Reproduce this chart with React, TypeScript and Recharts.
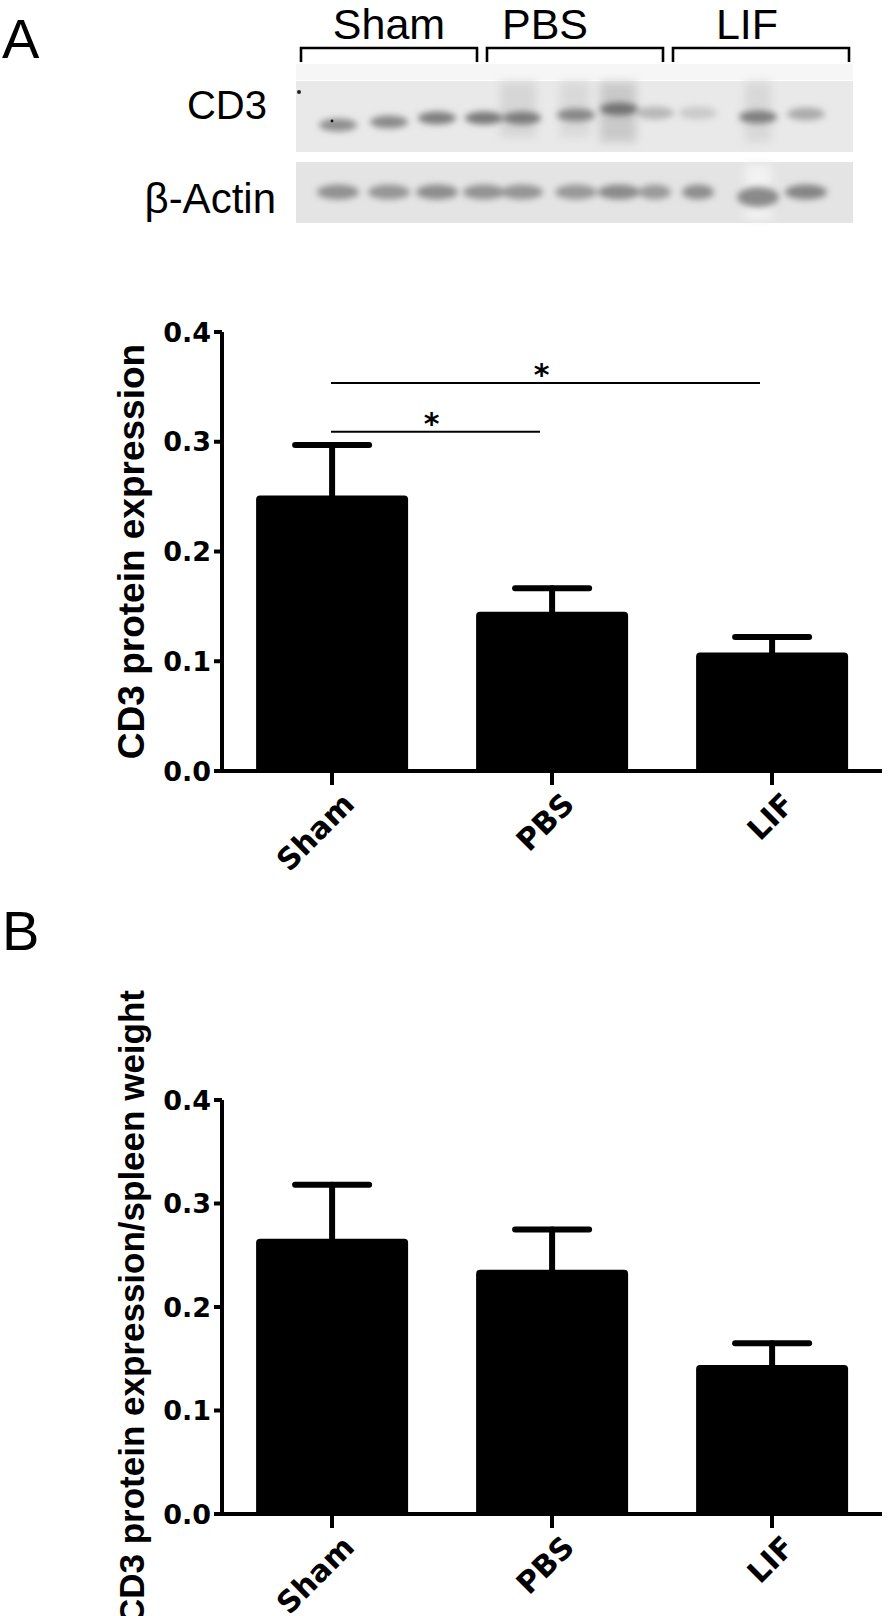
import React from "react";
import { BarChart, Bar, XAxis, YAxis, ErrorBar, ReferenceLine, Label } from "recharts";

const groups = ["Sham", "PBS", "LIF"];
const cd3Mean = [0.251, 0.145, 0.108];
const cd3Sem = [0.046, 0.0215, 0.014];
const cd3PerWeightMean = [0.266, 0.236, 0.144];
const cd3PerWeightSem = [0.052, 0.039, 0.021];
const yTicks = [0, 0.1, 0.2, 0.3, 0.4];

const sigFrom = ["Sham", "Sham"];
const sigTo = ["LIF", "PBS"];
const sigLevel = [0.3535, 0.309];
const sigMark = ["*", "*"];

// western blot lanes (drawn, not data)
const laneX = [338, 389, 437, 484, 522, 576, 619, 655, 698, 758, 806];
const cd3BandY = [125, 122, 118, 118, 118, 115, 109, 113, 113, 117, 114];
const cd3BandTone = ["#8e8e8e", "#8a8a8a", "#7e7e7e", "#787878", "#7a7a7a", "#878787", "#727272", "#b8b8b8", "#cacaca", "#7e7e7e", "#ababab"];
const actinTone = ["#909090", "#959595", "#8c8c8c", "#929292", "#949494", "#989898", "#8a8a8a", "#9a9a9a", "#8e8e8e", "#8a8a8a", "#848484"];

const SANS = "'Liberation Sans', Arial, sans-serif";
const TICK_FONT = "'DejaVu Sans', sans-serif";

function XTick(props: any) {
  const { x, y, payload } = props;
  const ax = x + 24;
  const ay = y + 19;
  return (
    <text
      x={ax}
      y={ay}
      transform={`rotate(-45 ${ax} ${ay})`}
      textAnchor="end"
      fontFamily={TICK_FONT}
      fontWeight="bold"
      fontSize={30}
      fill="#000"
    >
      {payload.value}
    </text>
  );
}

function SigLine(props: any) {
  const { x1, y1, x2, mark } = props;
  const xs = x1 - 1;
  const xe = x2 - 12;
  return (
    <g>
      <line x1={xs} y1={y1} x2={xe} y2={y1} stroke="#000" strokeWidth={2} />
      <text
        x={(xs + xe) / 2 - 4}
        y={y1 + 2}
        textAnchor="middle"
        fontFamily={TICK_FONT}
        fontWeight="bold"
        fontSize={30}
        fill="#000"
      >
        {mark}
      </text>
    </g>
  );
}

function AxisTitle(props: any) {
  const { text, tx, ty, anchor, size } = props;
  return (
    <text
      x={tx}
      y={ty}
      transform={`rotate(-90 ${tx} ${ty})`}
      textAnchor={anchor}
      fontFamily={SANS}
      fontWeight="bold"
      fontSize={size}
      fill="#000"
    >
      {text}
    </text>
  );
}

interface PanelProps {
  means: number[];
  sems: number[];
  top: number;
  height: number;
  plotTop: number;
  plotHeight: number;
  title: string;
  titleY: number;
  titleAnchor: string;
  titleSize: number;
  showSig?: boolean;
}

function BarPanel(p: PanelProps) {
  const data = groups.map((g, i) => ({ group: g, mean: p.means[i], err: p.sems[i] }));
  const bottom = p.height - p.plotTop - p.plotHeight - 30;
  return (
    <div style={{ position: "absolute", left: 0, top: p.top, width: 894, height: p.height }}>
      <BarChart
        width={894}
        height={p.height}
        data={data}
        margin={{ top: p.plotTop, right: 12, left: 162, bottom }}
        barCategoryGap="15.5%"
      >
        <XAxis
          dataKey="group"
          height={30}
          interval={0}
          axisLine={{ stroke: "#000", strokeWidth: 4 }}
          tickLine={{ stroke: "#000", strokeWidth: 4 }}
          tickSize={14}
          tick={<XTick />}
        />
        <YAxis
          width={60}
          domain={[0, 0.4]}
          ticks={yTicks}
          interval={0}
          axisLine={{ stroke: "#000", strokeWidth: 4 }}
          tickLine={{ stroke: "#000", strokeWidth: 4 }}
          tickSize={8}
          tickMargin={3}
          tickFormatter={(v: number) => v.toFixed(1)}
          tick={{ fill: "#000", fontFamily: TICK_FONT, fontWeight: "bold", fontSize: 27 }}
        >
          <Label
            content={
              <AxisTitle
                text={p.title}
                tx={144}
                ty={p.titleY}
                anchor={p.titleAnchor}
                size={p.titleSize}
              />
            }
          />
        </YAxis>
        <Bar dataKey="mean" fill="#000" radius={[4, 4, 0, 0]} isAnimationActive={false}>
          <ErrorBar
            dataKey="err"
            direction="y"
            width={37}
            stroke="#000"
            strokeWidth={6}
            strokeLinecap="round"
            isAnimationActive={false}
          />
        </Bar>
        {p.showSig &&
          sigLevel.map((lvl, i) => (
            <ReferenceLine
              key={i}
              segment={[
                { x: sigFrom[i], y: lvl },
                { x: sigTo[i], y: lvl },
              ]}
              stroke="#000"
              shape={(sp: any) => <SigLine {...sp} mark={sigMark[i]} />}
            />
          ))}
      </BarChart>
    </div>
  );
}

function Blot() {
  const brackets = [
    [301, 477],
    [487, 663],
    [673, 849],
  ];
  const titleX = [389, 545, 747];
  return (
    <svg width={894} height={240} style={{ position: "absolute", left: 0, top: 0 }}>
      <defs>
        <filter id="soft" x="-50%" y="-50%" width="200%" height="200%">
          <feGaussianBlur stdDeviation="3" />
        </filter>
        <filter id="smear" x="-50%" y="-50%" width="200%" height="200%">
          <feGaussianBlur stdDeviation="5" />
        </filter>
      </defs>
      <text x={2} y={58} fontFamily={SANS} fontSize={56} fill="#000">A</text>
      {groups.map((g, i) => (
        <text key={g} x={titleX[i]} y={39} textAnchor="middle" fontFamily={SANS} fontSize={43} fill="#000">
          {g}
        </text>
      ))}
      {brackets.map(([a, b], i) => (
        <path key={i} d={`M${a} 62 V48 H${b} V62`} fill="none" stroke="#000" strokeWidth={2.6} />
      ))}
      <text x={267} y={119} textAnchor="end" fontFamily={SANS} fontSize={40} fill="#000">CD3</text>
      <text x={276} y={213} textAnchor="end" fontFamily={SANS} fontSize={42} fill="#000">β-Actin</text>

      <rect x={296} y={64} width={557} height={16} fill="#f6f6f6" />
      <rect x={296} y={81} width={557} height={71} fill="#e9e9e9" />
      <rect x={296} y={162} width={557} height={61} fill="#e4e4e4" />
      <g filter="url(#smear)">
        <rect x={600} y={82} width={36} height={60} fill="#c9c9c9" />
        <rect x={560} y={82} width={30} height={55} fill="#d9d9d9" />
        <rect x={500} y={82} width={36} height={55} fill="#d6d6d6" />
        <rect x={745} y={164} width={26} height={56} fill="#f2f2f2" />
        <rect x={745} y={82} width={26} height={60} fill="#d8d8d8" />
      </g>
      <g filter="url(#soft)">
        {laneX.map((cx, i) => (
          <ellipse key={`c${i}`} cx={cx} cy={cd3BandY[i]} rx={19} ry={6.5} fill={cd3BandTone[i]} />
        ))}
        {laneX.map((cx, i) => (
          <ellipse
            key={`a${i}`}
            cx={cx}
            cy={i === 9 ? 197 : 192}
            rx={i === 7 || i === 8 ? 16 : 21}
            ry={i === 9 ? 10 : 7.5}
            fill={actinTone[i]}
          />
        ))}
      </g>
      <circle cx={299} cy={92} r={2} fill="#222" />
      <circle cx={332} cy={121} r={1.4} fill="#111" />
    </svg>
  );
}

export default function App() {
  return (
    <div
      style={{
        position: "absolute",
        left: 0,
        top: 0,
        width: 894,
        height: 1616,
        background: "#fff",
        overflow: "hidden",
      }}
    >
      <Blot />
      <BarPanel
        means={cd3Mean}
        sems={cd3Sem}
        top={240}
        height={660}
        plotTop={92}
        plotHeight={439}
        title="CD3 protein expression"
        titleY={311.5}
        titleAnchor="middle"
        titleSize={37}
        showSig
      />
      <svg width={894} height={80} style={{ position: "absolute", left: 0, top: 890 }}>
        <text x={2} y={60} fontFamily={SANS} fontSize={56} fill="#000">B</text>
      </svg>
      <BarPanel
        means={cd3PerWeightMean}
        sems={cd3PerWeightSem}
        top={960}
        height={656}
        plotTop={140}
        plotHeight={414}
        title="CD3 protein expression/spleen weight"
        titleY={30}
        titleAnchor="end"
        titleSize={35}
      />
    </div>
  );
}
